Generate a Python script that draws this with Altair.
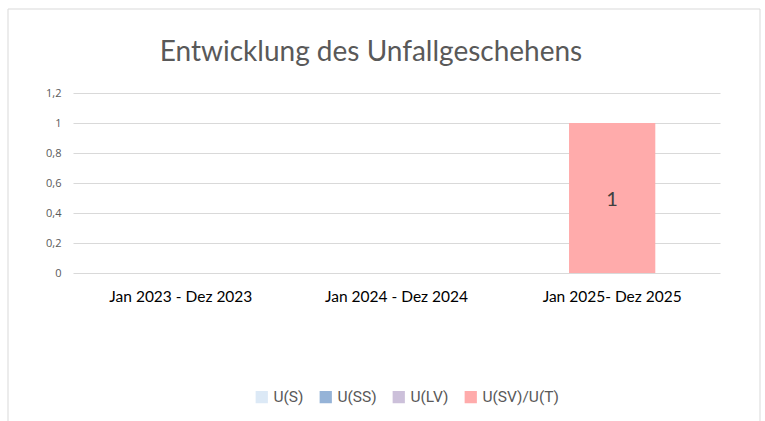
import altair as alt
import pandas as pd

title_text = "Entwicklung des Unfallgeschehens"
periods = ["Jan 2023 - Dez 2023", "Jan 2024 - Dez 2024", "Jan 2025- Dez 2025"]
series = ["U(S)", "U(SS)", "U(LV)", "U(SV)/U(T)"]
colors = ["#dce9f6", "#95b3d7", "#ccc0da", "#ffabab"]
values = {
    "U(S)": [0, 0, 0],
    "U(SS)": [0, 0, 0],
    "U(LV)": [0, 0, 0],
    "U(SV)/U(T)": [0, 0, 1],
}
y_ticks = [0, 0.2, 0.4, 0.6, 0.8, 1.0, 1.2]

rows = []
for si, s in enumerate(series):
    for pi, p in enumerate(periods):
        rows.append({"period": p, "series": s, "order": si, "value": values[s][pi]})
df = pd.DataFrame(rows)

x_enc = alt.X("period:N", sort=periods, title=None,
              scale=alt.Scale(paddingInner=0.6, paddingOuter=0.3),
              axis=alt.Axis(labelAngle=0, labelFontSize=15.5, labelColor="#000000",
                            labelFont="Lato", ticks=False, domain=False,
                            labelPadding=16, grid=False))
y_axis = alt.Axis(values=y_ticks, labelExpr="replace(format(datum.value, '~g'), '.', ',')",
                  labelFontSize=11, labelColor="#595959", labelFont="Open Sans",
                  ticks=False, domain=False, labelPadding=12, labelOverlap=False,
                  gridColor="#d9d9d9", gridWidth=1)
y_scale = alt.Scale(domain=[0, 1.2], nice=False)

base = alt.Chart(df)

frame = alt.Chart(pd.DataFrame({"t": [title_text]})).mark_rect(
    fill=None, stroke="#d9d9d9", strokeWidth=1
).encode(
    x=alt.value(-65), x2=alt.value(687), y=alt.value(-84), y2=alt.value(345)
)

title = alt.Chart(pd.DataFrame({"t": [title_text]})).mark_text(
    fontSize=28, font="Lato", color="#595959", baseline="middle", align="center"
).encode(x=alt.value(298), y=alt.value(-40), text="t:N")

bars = base.mark_bar(clip=False).encode(
    x=x_enc,
    y=alt.Y("value:Q", stack="zero", title=None, scale=y_scale, axis=y_axis),
    color=alt.Color("series:N", sort=series,
                    scale=alt.Scale(domain=series, range=colors),
                    legend=alt.Legend(title=None, orient="none", direction="horizontal",
                                      legendX=181, legendY=296, symbolType="square",
                                      symbolSize=150, symbolStrokeWidth=0,
                                      labelFontSize=15.5, labelColor="#595959",
                                      labelFont="Roboto", columnPadding=14,
                                      symbolOffset=0, labelOffset=4)),
    order=alt.Order("order:Q"),
)

labels = base.transform_stack(
    stack="value", groupby=["period"], as_=["v0", "v1"],
    sort=[alt.SortField("order")]
).transform_filter("datum.value > 0").transform_calculate(
    mid="(datum.v0 + datum.v1) / 2"
).mark_text(fontSize=20, color="#404040", font="Lato", dy=2).encode(
    x=x_enc,
    y=alt.Y("mid:Q", title=None, scale=y_scale, axis=y_axis),
    text=alt.Text("value:Q"),
)

chart = alt.layer(frame, title, bars, labels).properties(
    width=647, height=180,
    autosize=alt.AutoSizeParams(type="none"),
    padding={"left": 73, "top": 93, "right": 45, "bottom": 148},
).configure(background="white").configure_view(stroke=None, strokeWidth=0)

chart.save("out.html", embed_options={"renderer": "svg", "actions": False})
